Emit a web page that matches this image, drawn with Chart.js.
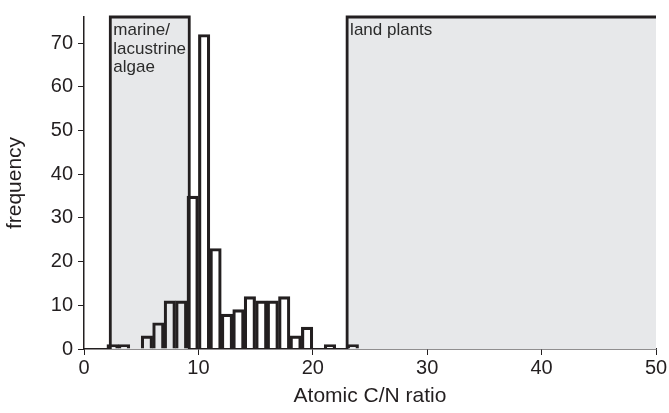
<!DOCTYPE html>
<html>
<head>
<meta charset="utf-8">
<script src="https://cdn.jsdelivr.net/npm/chart.js@4/dist/chart.umd.min.js"></script>
<style>
  html, body { margin: 0; padding: 0; background: #ffffff; }
  #wrap { width: 669px; height: 413px; position: relative; }
</style>
</head>
<body>
<div id="wrap"><canvas id="c" width="669" height="413"></canvas></div>
<script>
// Histogram bins (left edge of each 1-unit C/N bin) and frequencies
const binStarts = [2, 3, 4, 5, 6, 7, 8, 9, 10, 11, 12, 13, 14, 15, 16, 17, 18, 19, 20, 21, 22, 23];
const frequencies = [1, 1, 0, 3, 6, 11, 11, 35, 72, 23, 8, 9, 12, 11, 11, 12, 3, 5, 0, 1, 0, 1];
// Shaded source ranges on the C/N axis
const zoneNames = [["marine/", "lacustrine", "algae"], ["land plants"]];
const zoneFrom = [2.3, 23];
const zoneTo = [9.2, 50];
const xTicks = [0, 10, 20, 30, 40, 50];
const yTicks = [0, 10, 20, 30, 40, 50, 60, 70];

const ink = '#231f20';
const FONT = '"Liberation Sans", Arial, sans-serif';
const points = binStarts.map((b, i) => ({ x: b + 0.5, y: frequencies[i] }))
  .filter(p => p.y > 0);

const zonePlugin = {
  id: 'zones',
  beforeDatasetsDraw(chart) {
    const { ctx, scales: { x, y } } = chart;
    const top = y.getPixelForValue(y.max);
    const bottom = y.getPixelForValue(0);
    ctx.save();
    zoneFrom.forEach((from, i) => {
      const l = x.getPixelForValue(from);
      const r = x.getPixelForValue(zoneTo[i]);
      ctx.fillStyle = '#e7e8ea';
      ctx.fillRect(l, top, r - l, bottom - top);
      ctx.strokeStyle = ink;
      ctx.lineWidth = 2.8;
      ctx.beginPath();
      ctx.moveTo(l, bottom);
      ctx.lineTo(l, top);
      ctx.lineTo(r, top);
      if (zoneTo[i] < x.max) ctx.lineTo(r, bottom);
      ctx.stroke();
      ctx.fillStyle = '#2b2b2b';
      ctx.font = '17px ' + FONT;
      ctx.textBaseline = 'alphabetic';
      ctx.textAlign = 'left';
      zoneNames[i].forEach((line, k) => {
        ctx.fillText(line, l + 3, top + 18 + k * 18.5);
      });
    });
    ctx.restore();
  }
};

new Chart(document.getElementById('c'), {
  type: 'bar',
  data: {
    datasets: [{
      data: points,
      backgroundColor: 'rgba(255,255,255,0)',
      borderColor: ink,
      borderWidth: 2.5,
      borderSkipped: 'bottom',
      barPercentage: 1,
      categoryPercentage: 1
    }]
  },
  plugins: [zonePlugin],
  options: {
    responsive: false,
    animation: false,
    layout: { padding: { top: 14, right: 13, left: 0, bottom: 0 } },
    plugins: { legend: { display: false }, tooltip: { enabled: false } },
    scales: {
      x: {
        type: 'linear',
        offset: false,
        min: 0, max: 50,
        afterBuildTicks: s => { s.ticks = xTicks.map(v => ({ value: v })); },
        afterFit: s => { s.height = 64; },
        ticks: { color: ink, font: { size: 20, family: FONT }, padding: 1, maxRotation: 0, autoSkip: false },
        grid: { display: true, offset: false, drawOnChartArea: false, drawTicks: true, tickLength: 6, color: ink, lineWidth: 1 },
        border: { display: true, color: ink, width: 1.5 },
        title: { display: true, text: 'Atomic C/N ratio', color: ink, font: { size: 21, family: FONT }, padding: { top: 0, bottom: 4 } }
      },
      y: {
        min: 0, max: 76,
        afterBuildTicks: s => { s.ticks = yTicks.map(v => ({ value: v })); },
        afterFit: s => { s.width = 84; },
        ticks: { color: ink, font: { size: 20, family: FONT }, padding: 5 },
        grid: { display: true, drawOnChartArea: false, drawTicks: true, tickLength: 6, color: ink, lineWidth: 1 },
        border: { display: true, color: ink, width: 1.5 },
        title: { display: true, text: 'frequency', color: ink, font: { size: 21, family: FONT }, padding: { top: 3, bottom: 0 } }
      }
    }
  }
});
</script>
</body>
</html>
